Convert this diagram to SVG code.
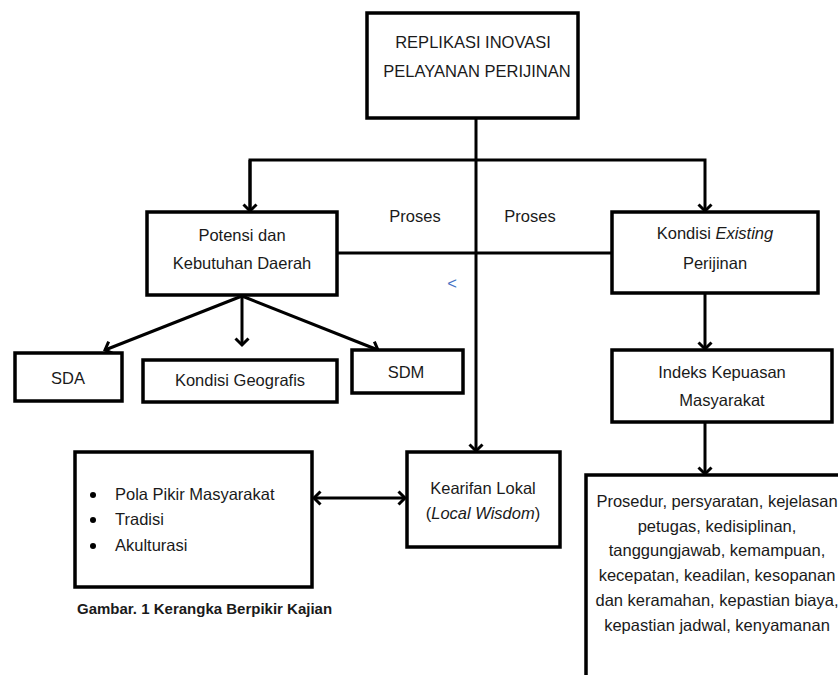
<svg xmlns="http://www.w3.org/2000/svg" width="838" height="675" viewBox="0 0 838 675">
<defs>
<marker id="ah" markerUnits="userSpaceOnUse" markerWidth="16" markerHeight="16" refX="8" refY="8" orient="auto-start-reverse" viewBox="0 0 16 16">
<path d="M1.5,1.5 L8,8 L1.5,14.5" fill="none" stroke="#000" stroke-width="3" stroke-linejoin="miter"/>
</marker>
<style>
.box{fill:#fff;stroke:#000;stroke-width:3.5}
.t{font-family:"Liberation Sans",Arial,sans-serif;font-size:16.5px;fill:#1a1a1a;text-anchor:middle}
.tl{font-family:"Liberation Sans",Arial,sans-serif;font-size:16.5px;fill:#1a1a1a}
.c{fill:none;stroke:#000;stroke-width:3}
</style>
</defs>
<rect width="838" height="675" fill="#fff"/>
<g id="connectors">
<line class="c" x1="476" y1="118" x2="476" y2="451" marker-end="url(#ah)"/>
<path class="c" d="M250,211 L250,160 L705,160 L705,211" marker-end="url(#ah)"/>
<path class="c" d="M250,160 L250,211" marker-end="url(#ah)"/>
<line class="c" x1="337" y1="253" x2="612" y2="253"/>
<line class="c" x1="705" y1="293" x2="705" y2="349" marker-end="url(#ah)"/>
<line class="c" x1="705" y1="422" x2="705" y2="474" marker-end="url(#ah)"/>
<line class="c" x1="242" y1="296" x2="105" y2="350" marker-end="url(#ah)"/>
<line class="c" x1="242" y1="296" x2="242" y2="345" marker-end="url(#ah)"/>
<line class="c" x1="242" y1="296" x2="378" y2="350" marker-end="url(#ah)"/>
<line class="c" x1="314" y1="498" x2="405" y2="498" marker-start="url(#ah)" marker-end="url(#ah)"/>
</g>
<g id="replikasi">
<rect class="box" x="367" y="13" width="211" height="105" stroke-width="4"/>
<text class="t" x="473" y="48" font-size="14.5">REPLIKASI INOVASI</text>
<text class="t" x="477" y="77" font-size="14.5">PELAYANAN PERIJINAN</text>
</g>
<g id="labels">
<text class="t" x="415" y="222" font-size="15.5">Proses</text>
<text class="t" x="530" y="222" font-size="15.5">Proses</text>
<text class="t" x="452" y="289" font-size="18" style="fill:#4472c4">&lt;</text>
</g>
<g id="potensi">
<rect class="box" x="147" y="212" width="190" height="83"/>
<text class="t" x="242" y="241">Potensi dan</text>
<text class="t" x="242" y="269">Kebutuhan Daerah</text>
</g>
<g id="kondisi-existing">
<rect class="box" x="612" y="212" width="206" height="81"/>
<text class="t" x="715" y="239">Kondisi <tspan font-style="italic">Existing</tspan></text>
<text class="t" x="715" y="269">Perijinan</text>
</g>
<g id="sda">
<rect class="box" x="15" y="353" width="107" height="48"/>
<text class="t" x="68" y="384">SDA</text>
</g>
<g id="geografis">
<rect class="box" x="143" y="360" width="194" height="42"/>
<text class="t" x="240" y="386">Kondisi Geografis</text>
</g>
<g id="sdm">
<rect class="box" x="352" y="350" width="111" height="43"/>
<text class="t" x="406" y="378">SDM</text>
</g>
<g id="indeks">
<rect class="box" x="612" y="350" width="220" height="72"/>
<text class="t" x="722" y="378">Indeks Kepuasan</text>
<text class="t" x="722" y="406">Masyarakat</text>
</g>
<g id="kearifan">
<rect class="box" x="407" y="452" width="153" height="95"/>
<text class="t" x="483" y="494">Kearifan Lokal</text>
<text class="t" x="483" y="519">(<tspan font-style="italic">Local Wisdom</tspan>)</text>
</g>
<g id="pola">
<rect class="box" x="75" y="452" width="237" height="135"/>
<circle cx="93" cy="495" r="3"/>
<circle cx="93" cy="520" r="3"/>
<circle cx="93" cy="546" r="3"/>
<text class="tl" x="115" y="500">Pola Pikir Masyarakat</text>
<text class="tl" x="115" y="525">Tradisi</text>
<text class="tl" x="115" y="551">Akulturasi</text>
</g>
<g id="indikator">
<rect class="box" x="586" y="475" width="270" height="230"/>
<text class="t" x="717" y="507" font-size="15">Prosedur, persyaratan, kejelasan</text>
<text class="t" x="717" y="532" font-size="15">petugas, kedisiplinan,</text>
<text class="t" x="717" y="556" font-size="15">tanggungjawab, kemampuan,</text>
<text class="t" x="717" y="581" font-size="15">kecepatan, keadilan, kesopanan</text>
<text class="t" x="717" y="606" font-size="15">dan keramahan, kepastian biaya,</text>
<text class="t" x="717" y="631" font-size="15">kepastian jadwal, kenyamanan</text>
</g>
<g id="caption">
<text x="77" y="614" font-family="'Liberation Sans',Arial,sans-serif" font-size="15" font-weight="bold" fill="#1a1a1a">Gambar. 1 Kerangka Berpikir Kajian</text>
</g>
</svg>
